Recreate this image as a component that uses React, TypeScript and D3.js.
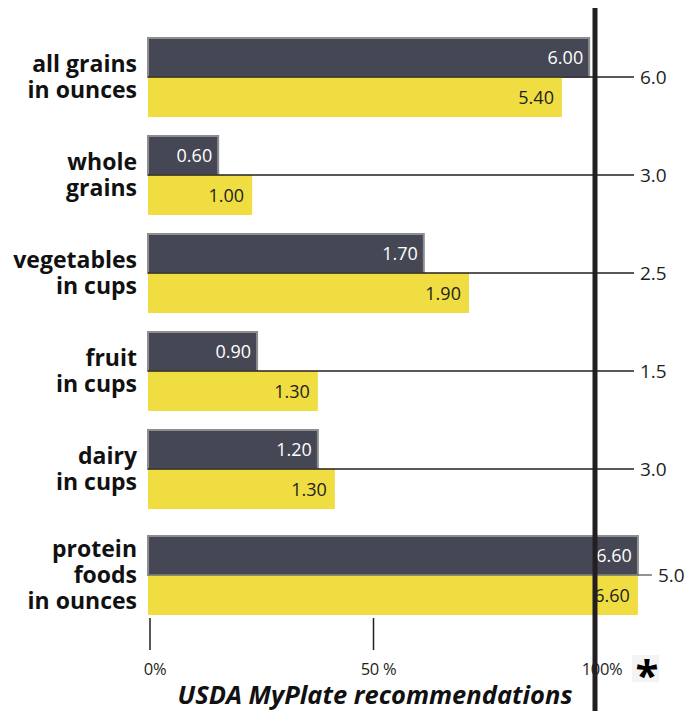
import React from "react";
import * as d3 from "d3";

const categories: string[][] = [
  ["all grains", "in ounces"],
  ["whole", "grains"],
  ["vegetables", "in cups"],
  ["fruit", "in cups"],
  ["dairy", "in cups"],
  ["protein", "foods", "in ounces"],
];
const darkLabels = ["6.00", "0.60", "1.70", "0.90", "1.20", "6.60"];
const lightLabels = ["5.40", "1.00", "1.90", "1.30", "1.30", "6.60"];
const recommended = ["6.0", "3.0", "2.5", "1.5", "3.0", "5.0"];
// bar lengths as percent of the USDA recommendation
const darkPct = [98.7, 15.7, 61.7, 24.4, 38.0, 109.6];
const lightPct = [92.6, 23.3, 71.8, 38.0, 41.8, 109.6];
const axisTicks = [0, 50];
const axisLabels = ["0%", "50 %", "100%"];
const axisLabelValues = [0, 50, 100];
const title = "USDA MyPlate recommendations";

const W = 689;
const H = 711;
const FONT = "'Open Sans', 'Noto Sans', sans-serif";
const DARK = "#464754";
const YELLOW = "#efdd42";
const INK = "#231f20";

export default function App() {
  const x = d3.scaleLinear().domain([0, 100]).range([148, 595]);
  const barH = 40;
  const pitch = 98;
  const firstTop = 37;
  const groupTop = (i: number) =>
    firstTop + pitch * i + (categories[i].length - 2) * 8;

  return (
    <svg
      width={W}
      height={H}
      style={{ position: "absolute", left: 0, top: 0 }}
      fontFamily={FONT}
    >
      <rect width={W} height={H} fill="#fff" />
      {categories.map((lines, i) => {
        const top = groupTop(i);
        const mid = top + barH;
        const darkEnd = x(darkPct[i]);
        const lightEnd = x(lightPct[i]);
        const barEnd = Math.max(darkEnd, lightEnd);
        const lineEnd = Math.max(634, barEnd + 14);
        const n = lines.length;
        return (
          <g key={i}>
            <rect
              x={x(0)}
              y={top + 1}
              width={darkEnd - x(0)}
              height={barH - 1}
              fill={DARK}
              stroke="#8e8e90"
              strokeWidth={2}
            />
            <rect
              x={x(0)}
              y={mid}
              width={lightEnd - x(0)}
              height={barH}
              fill={YELLOW}
            />
            <line
              x1={x(0)}
              x2={lineEnd}
              y1={mid}
              y2={mid}
              stroke={i === categories.length - 1 ? "#6d6e71" : INK}
              strokeWidth={1.3}
            />
            <text
              x={lineEnd + 6}
              y={mid}
              dy="0.36em"
              fontSize={19}
              fill={INK}
            >
              {recommended[i]}
            </text>
            <text
              x={darkEnd - 6}
              y={top + barH / 2 + 1}
              dy="0.36em"
              textAnchor="end"
              fontSize={18}
              fill="#fff"
            >
              {darkLabels[i]}
            </text>
            <text
              x={lightEnd - 8}
              y={mid + barH / 2 + 1}
              dy="0.36em"
              textAnchor="end"
              fontSize={18}
              fill={INK}
            >
              {lightLabels[i]}
            </text>
            {lines.map((t, k) => (
              <text
                key={k}
                x={137}
                y={mid + (k - (n - 1) / 2) * 26 + 8}
                textAnchor="end"
                fontSize={23}
                fontWeight={700}
                fill="#111"
              >
                {t}
              </text>
            ))}
          </g>
        );
      })}
      {/* 100% reference line */}
      <line x1={x(100)} x2={x(100)} y1={8} y2={H} stroke={INK} strokeWidth={5} />
      {axisTicks.map((t) => (
        <line
          key={t}
          x1={x(t) + 2}
          x2={x(t) + 2}
          y1={618}
          y2={650}
          stroke={INK}
          strokeWidth={1.5}
        />
      ))}
      {axisLabelValues.map((v, i) => (
        <text
          key={v}
          x={x(v) + 7}
          y={675}
          textAnchor="middle"
          fontSize={16.5}
          fill={INK}
          letterSpacing={-0.3}
        >
          {axisLabels[i]}
        </text>
      ))}
      <rect x={632} y={655} width={27} height={27} fill="#f4f4f4" />
      <text
        x={647}
        y={690}
        textAnchor="middle"
        fontSize={42}
        fontWeight={700}
        fill="#000"
      >
        *
      </text>
      <text
        x={375}
        y={704}
        textAnchor="middle"
        fontSize={25.5}
        fontWeight={700}
        fontStyle="italic"
        fill="#111"
      >
        {title}
      </text>
    </svg>
  );
}
